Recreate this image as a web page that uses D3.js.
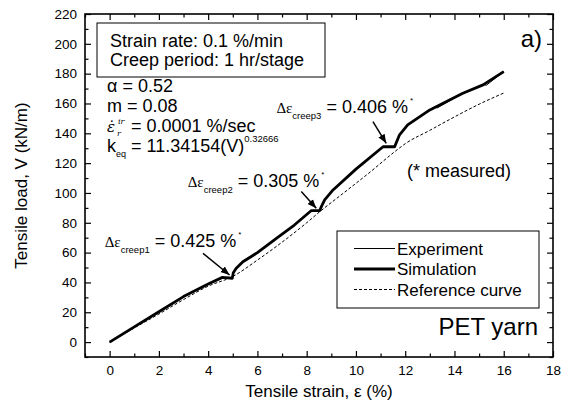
<!DOCTYPE html>
<html>
<head>
<meta charset="utf-8">
<script src="https://cdn.jsdelivr.net/npm/d3@7"></script>
<style>
  body { margin: 0; background: #fff; }
  svg { font-family: "Liberation Sans", Arial, sans-serif; }
  .axis path { display: none; }
  .axis line { stroke: #000; stroke-width: 1.2; }
  .axis text { font-size: 13.5px; fill: #000; font-family: "Liberation Sans", Arial, sans-serif; }
</style>
</head>
<body>
<script>
// strain (%) / load (kN/m)
var simStrain = [0, 1, 2, 3, 4, 4.58, 4.98, 5.02, 5.14, 5.41, 6, 6.77, 7.5, 8.19, 8.53, 8.6, 8.73, 9.07, 10, 11.1, 11.57, 11.77, 12.1, 13, 14.34, 15.16, 16]
var simLoad   = [0, 10.2, 20.3, 30.5, 39, 43.4, 42.8, 46.5, 49.5, 53.9, 60, 69.6, 78.5, 88.2, 88.2, 91, 95.3, 102, 116, 131, 131, 139, 145.6, 155.7, 166.9, 172.5, 181.4]

var expStrain = [0, 1, 2, 3, 4, 4.58, 4.98, 5.02, 5.14, 5.41, 6, 6.77, 7.5, 8.19, 8.53, 8.6, 8.73, 9.07, 10, 11.1, 11.57, 11.77, 12.1, 13, 13.2, 13.3, 14.34, 15.16, 15.3, 16]
var expLoad   = [0, 10.2, 20.3, 30.5, 39, 43.4, 42.8, 46.5, 49.5, 53.9, 60, 69.6, 78.5, 88.2, 88.2, 91, 95.3, 102, 116, 131, 131, 139, 145.6, 155.7, 157.8, 157, 166.9, 172.5, 172.3, 181.4]

var refStrain = [0, 1, 2, 3, 4, 5, 6, 7, 8, 8.5, 9.5, 10.5, 11.6, 12, 13, 14, 15, 16]
var refLoad   = [0, 9.5, 18.8, 28.5, 37.5, 44, 55, 67, 80, 87, 100, 113, 128, 133, 142, 151, 159.5, 167]

var xTicks = [0, 2, 4, 6, 8, 10, 12, 14, 16, 18]
var yTicks = [0, 20, 40, 60, 80, 100, 120, 140, 160, 180, 200, 220]

var creepLabels = ["creep1", "creep2", "creep3"]
var creepValues = ["0.425", "0.305", "0.406"]

var width = 565, height = 407
var margin = {top: 14, right: 12, bottom: 50, left: 85}

var svg = d3.select("body").append("svg")
  .attr("width", width)
  .attr("height", height)

var x = d3.scaleLinear().domain([-1, 18]).range([margin.left, width - margin.right])
var y = d3.scaleLinear().domain([-10, 220]).range([height - margin.bottom, margin.top])

var xMinor = d3.range(-1, 19, 1).filter(function(d) { return xTicks.indexOf(d) < 0 })
var yMinor = d3.range(-10, 221, 10).filter(function(d) { return yTicks.indexOf(d) < 0 })

// axes, ticks inward on all four sides
svg.append("g").attr("class", "axis")
  .attr("transform", "translate(0," + y.range()[0] + ")")
  .call(d3.axisBottom(x).tickValues(xTicks).tickSize(-6).tickPadding(8))
svg.append("g").attr("class", "axis")
  .attr("transform", "translate(0," + y.range()[0] + ")")
  .call(d3.axisBottom(x).tickValues(xMinor).tickSize(-3.5).tickFormat(""))
svg.append("g").attr("class", "axis")
  .attr("transform", "translate(0," + y.range()[1] + ")")
  .call(d3.axisTop(x).tickValues(xTicks).tickSize(-6).tickFormat(""))
svg.append("g").attr("class", "axis")
  .attr("transform", "translate(0," + y.range()[1] + ")")
  .call(d3.axisTop(x).tickValues(xMinor).tickSize(-3.5).tickFormat(""))

svg.append("g").attr("class", "axis")
  .attr("transform", "translate(" + x.range()[0] + ",0)")
  .call(d3.axisLeft(y).tickValues(yTicks).tickSize(-6).tickPadding(8))
svg.append("g").attr("class", "axis")
  .attr("transform", "translate(" + x.range()[0] + ",0)")
  .call(d3.axisLeft(y).tickValues(yMinor).tickSize(-3.5).tickFormat(""))
svg.append("g").attr("class", "axis")
  .attr("transform", "translate(" + x.range()[1] + ",0)")
  .call(d3.axisRight(y).tickValues(yTicks).tickSize(-6).tickFormat(""))
svg.append("g").attr("class", "axis")
  .attr("transform", "translate(" + x.range()[1] + ",0)")
  .call(d3.axisRight(y).tickValues(yMinor).tickSize(-3.5).tickFormat(""))

svg.append("rect")
  .attr("x", x.range()[0])
  .attr("y", y.range()[1])
  .attr("width", x.range()[1] - x.range()[0])
  .attr("height", y.range()[0] - y.range()[1])
  .attr("fill", "none")
  .attr("stroke", "#000")
  .attr("stroke-width", 1.6)

// axis titles
svg.append("text")
  .attr("x", (x.range()[0] + x.range()[1]) / 2)
  .attr("y", 397)
  .attr("text-anchor", "middle")
  .style("font-size", "17px")
  .text("Tensile strain, ε (%)")

svg.append("text")
  .attr("transform", "translate(27," + ((y.range()[0] + y.range()[1]) / 2) + ") rotate(-90)")
  .attr("text-anchor", "middle")
  .style("font-size", "17px")
  .text("Tensile load, V (kN/m)")

// curves
var line = d3.line()
  .x(function(d) { return x(d[0]) })
  .y(function(d) { return y(d[1]) })

function pairs(xs, ys) {
  return xs.map(function(d, i) { return [d, ys[i]] })
}

svg.append("path")
  .datum(pairs(refStrain, refLoad))
  .attr("d", line.curve(d3.curveMonotoneX))
  .attr("fill", "none")
  .attr("stroke", "#000")
  .attr("stroke-width", 1)
  .attr("stroke-dasharray", "3,2")

svg.append("path")
  .datum(pairs(simStrain, simLoad))
  .attr("d", line.curve(d3.curveLinear))
  .attr("fill", "none")
  .attr("stroke", "#000")
  .attr("stroke-width", 2.8)
  .attr("stroke-linejoin", "round")

svg.append("path")
  .datum(pairs(expStrain, expLoad))
  .attr("d", line.curve(d3.curveLinear))
  .attr("fill", "none")
  .attr("stroke", "#000")
  .attr("stroke-width", 1)

// info box
svg.append("rect")
  .attr("x", 97).attr("y", 23)
  .attr("width", 228).attr("height", 54)
  .attr("fill", "#fff")
  .attr("stroke", "#000")
  .attr("stroke-width", 1)

svg.append("text").attr("x", 110).attr("y", 47)
  .style("font-size", "18px").text("Strain rate: 0.1 %/min")
svg.append("text").attr("x", 110).attr("y", 66)
  .style("font-size", "18px").text("Creep period: 1 hr/stage")

// parameters
svg.append("text").attr("x", 107).attr("y", 92)
  .style("font-size", "18px").text("α = 0.52")
svg.append("text").attr("x", 107).attr("y", 112)
  .style("font-size", "18px").text("m = 0.08")

var eps = svg.append("g").attr("transform", "translate(107,132)")
eps.append("text").attr("x", 0).attr("y", 0)
  .style("font-family", "'DejaVu Serif', serif").style("font-style", "italic")
  .style("font-size", "15px").text("ε\u0307")
eps.append("text").attr("x", 11).attr("y", -8)
  .style("font-family", "'DejaVu Serif', serif").style("font-style", "italic")
  .style("font-size", "8px").text("ir")
eps.append("text").attr("x", 10).attr("y", 4)
  .style("font-family", "'DejaVu Serif', serif").style("font-style", "italic")
  .style("font-size", "8px").text("r")
eps.append("text").attr("x", 24).attr("y", 0)
  .style("font-size", "18px").text("= 0.0001 %/sec")

var keq = svg.append("text").attr("x", 107).attr("y", 152).style("font-size", "18px")
keq.append("tspan").text("k")
keq.append("tspan").attr("dy", 5).style("font-size", "9px").text("eq")
keq.append("tspan").attr("dy", -5).text(" = 11.34154(V)")
keq.append("tspan").attr("dy", -10).style("font-size", "9.5px").text("0.32666")

// creep annotations: label anchor, arrow start, arrow end (data units)
var creepAnn = [
  {lx: -0.2, ly: 64, ax: 3.79, ay: 59.5, bx: 4.87, by: 45.0},
  {lx: 3.17, ly: 104, ax: 7.78, ay: 100.9, bx: 8.39, by: 89.7},
  {lx: 6.77, ly: 153.5, ax: 10.69, ay: 147.8, bx: 11.23, by: 133.3}
]

svg.append("defs").append("marker")
  .attr("id", "arrow")
  .attr("viewBox", "0 0 10 10")
  .attr("refX", 10).attr("refY", 5)
  .attr("markerWidth", 9).attr("markerHeight", 9)
  .attr("markerUnits", "userSpaceOnUse")
  .attr("orient", "auto")
  .append("path").attr("d", "M0,1 L10,5 L0,9 z").attr("fill", "#000")

creepAnn.forEach(function(a, i) {
  var t = svg.append("text")
    .attr("x", x(a.lx)).attr("y", y(a.ly))
  t.append("tspan")
    .style("font-family", "'Liberation Serif', serif")
    .style("font-size", "15px").text("Δε")
  t.append("tspan").attr("dy", 6).style("font-size", "9.5px").text(creepLabels[i])
  t.append("tspan").attr("dy", -6).style("font-size", "18px").text(" = " + creepValues[i] + " %")
  t.append("tspan").attr("dy", -10).attr("dx", 2).style("font-size", "8px").text("*")

  svg.append("line")
    .attr("x1", x(a.ax)).attr("y1", y(a.ay))
    .attr("x2", x(a.bx)).attr("y2", y(a.by))
    .attr("stroke", "#000").attr("stroke-width", 1.5)
    .attr("marker-end", "url(#arrow)")
})

svg.append("text").attr("x", 407).attr("y", 177)
  .style("font-size", "18px").text("(* measured)")

svg.append("text").attr("x", 542).attr("y", 47)
  .attr("text-anchor", "end")
  .style("font-size", "24px").text("a)")

svg.append("text").attr("x", 538).attr("y", 335)
  .attr("text-anchor", "end")
  .style("font-size", "24px").text("PET yarn")

// legend
var legendNames = ["Experiment", "Simulation", "Reference curve"]
var legendWidths = [1, 2.8, 1]
var legendDash = [null, null, "3,2"]

var legend = svg.append("g").attr("transform", "translate(337,231)")
legend.append("rect")
  .attr("width", 202).attr("height", 77)
  .attr("fill", "#fff").attr("stroke", "#000").attr("stroke-width", 1)

var item = legend.selectAll("g.item")
  .data(legendNames)
  .enter().append("g")
  .attr("class", "item")
  .attr("transform", function(d, i) { return "translate(0," + (17.5 + i * 20.5) + ")" })

item.append("line")
  .attr("x1", 17).attr("x2", 58)
  .attr("stroke", "#000")
  .attr("stroke-width", function(d, i) { return legendWidths[i] })
  .attr("stroke-dasharray", function(d, i) { return legendDash[i] })

item.append("text")
  .attr("x", 60).attr("y", 6)
  .style("font-size", "17px")
  .text(function(d) { return d })
</script>
</body>
</html>
